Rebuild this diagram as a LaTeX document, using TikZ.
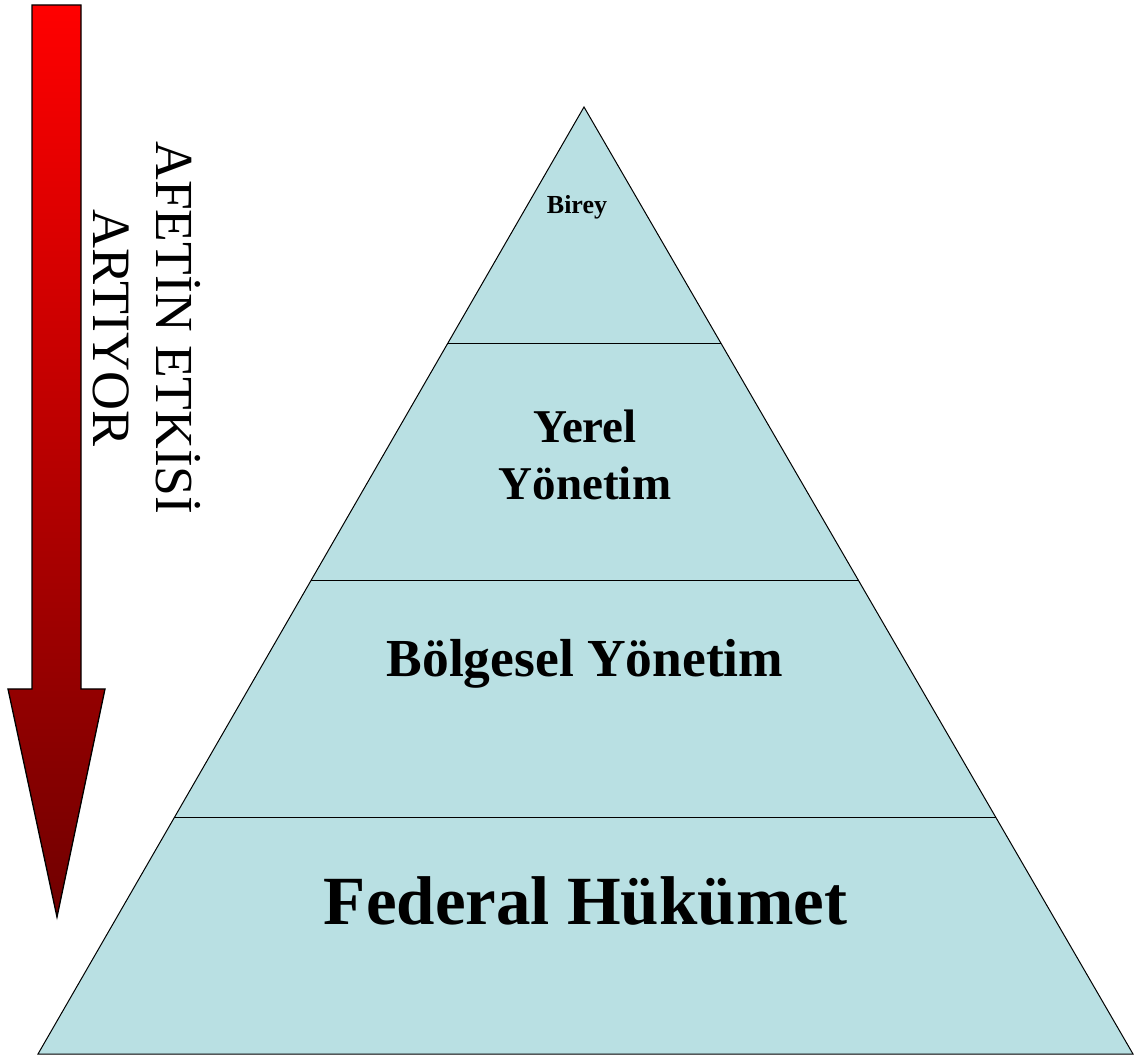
\documentclass[tikz,border=0pt]{standalone}
\usepackage{fontspec}
\setmainfont{Liberation Serif}
\usetikzlibrary{calc}
\definecolor{pyrfill}{RGB}{185,224,227}
\definecolor{arrowbot}{RGB}{112,0,0}
\tikzset{
  lvltext/.style={anchor=base, inner sep=0pt, font=\bfseries},
  sidetext/.style={anchor=base, inner sep=0pt, rotate=-90},
  divider/.style={draw=black, line width=1pt}
}
\begin{document}
\begin{tikzpicture}[x=1pt,y=1pt]
\useasboundingbox (0,0) rectangle (1140,1061);
% arrow
\shade[top color=red, bottom color=arrowbot, draw=black, line width=1.3pt, line join=miter]
  (32,1056) -- (81,1056) -- (81,372) -- (105,372) -- (57,144) -- (8,372) -- (32,372) -- cycle;
% pyramid
\coordinate (apex) at (584,954);
\coordinate (bl) at (38,7);
\coordinate (br) at (1133,7);
\filldraw[fill=pyrfill, draw=black, line width=1pt] (apex) -- (br) -- (bl) -- cycle;
\coordinate (l1) at ($(apex)!0.25!(bl)$);
\coordinate (r1) at ($(apex)!0.25!(br)$);
\coordinate (l2) at ($(apex)!0.5!(bl)$);
\coordinate (r2) at ($(apex)!0.5!(br)$);
\coordinate (l3) at ($(apex)!0.75!(bl)$);
\coordinate (r3) at ($(apex)!0.75!(br)$);
\draw[divider] (l1) -- (r1);
\draw[divider] (l2) -- (r2);
\draw[divider] (l3) -- (r3);
% level labels
\node[lvltext, font=\bfseries\fontsize{26pt}{31pt}\selectfont] (birey) at (577,847) {Birey};
\node[lvltext, font=\bfseries\fontsize{47pt}{56pt}\selectfont] (yerel) at (585,618) {Yerel};
\node[lvltext, font=\bfseries\fontsize{47pt}{56pt}\selectfont] (yonetim) at (585,561) {Yönetim};
\node[lvltext, font=\bfseries\fontsize{53.5pt}{64pt}\selectfont] (bolgesel) at (585,384) {Bölgesel Yönetim};
\node[lvltext, font=\bfseries\fontsize{69pt}{83pt}\selectfont] (federal) at (585.5,137) {Federal Hükümet};
% side text
\node[sidetext, font=\fontsize{53.5pt}{64pt}\selectfont] (afetin) at (156,733) {AFETİN ETKİSİ};
\node[sidetext, font=\fontsize{54pt}{64pt}\selectfont] (artiyor) at (93,733) {ARTIYOR};
\end{tikzpicture}
\end{document}
